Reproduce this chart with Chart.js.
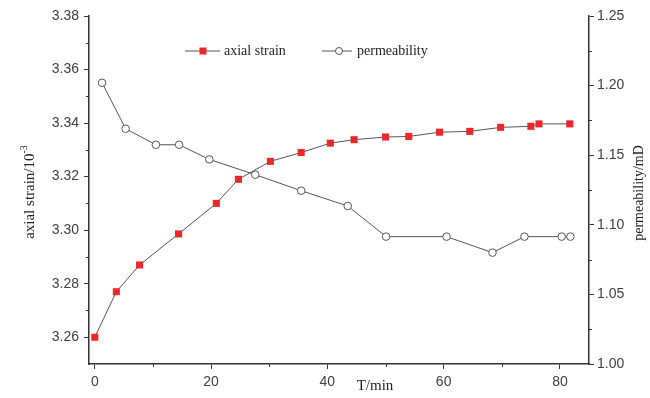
<!DOCTYPE html>
<html>
<head>
<meta charset="utf-8">
<script src="https://cdn.jsdelivr.net/npm/chart.js@4/dist/chart.umd.min.js"></script>
<style>
html,body{margin:0;padding:0;background:#fff;}
#wrap{width:650px;height:398px;position:relative;}
</style>
</head>
<body>
<div id="wrap"><canvas id="c" width="650" height="398"></canvas></div>
<script>
// ---- data ----
const strainT = [0, 3.7, 7.7, 14.4, 20.9, 24.7, 30.2, 35.5, 40.5, 44.6, 50.0, 54.0, 59.3, 64.5, 69.8, 75.0, 76.4, 81.7];
const strainV = [3.260, 3.277, 3.287, 3.2986, 3.310, 3.319, 3.3257, 3.329, 3.3325, 3.3338, 3.3348, 3.335, 3.3366, 3.3369, 3.3384, 3.3388, 3.3397, 3.3397];
const permT = [1.25, 5.3, 10.5, 14.5, 19.7, 27.6, 35.5, 43.5, 50.1, 60.5, 68.4, 73.9, 80.3, 81.8];
const permV = [1.202, 1.169, 1.1575, 1.1575, 1.147, 1.136, 1.1245, 1.1135, 1.0915, 1.0915, 1.080, 1.0915, 1.0915, 1.0915];
const xTicks = [0, 20, 40, 60, 80];
const xMinor = [10, 30, 50, 70];
const yLeftTicks = [3.26, 3.28, 3.30, 3.32, 3.34, 3.36, 3.38];
const yLeftMinor = [3.27, 3.29, 3.31, 3.33, 3.35, 3.37];
const yRightTicks = [1.00, 1.05, 1.10, 1.15, 1.20, 1.25];
const yRightMinor = [1.025, 1.075, 1.125, 1.175, 1.225];
const labels = { strain: 'axial strain', perm: 'permeability', x: 'T/min', yl: 'axial strain/10', ylSup: '-3', yr: 'permeability/mD' };

const SERIF = '"Liberation Serif", "Times New Roman", serif';
const SANS = '"Liberation Sans", Arial, sans-serif';
const AXIS = '#333';
const LINE = '#555';
const RED = '#e8282b';

const toXY = (xs, ys) => xs.map((x, i) => ({ x: x, y: ys[i] }));

const decor = {
  id: 'decor',
  afterDraw(chart) {
    const ctx = chart.ctx;
    const sx = chart.scales.x, sl = chart.scales.yl, sr = chart.scales.yr;
    const a = chart.chartArea;
    ctx.save();
    // minor ticks
    ctx.strokeStyle = AXIS; ctx.lineWidth = 1;
    ctx.beginPath();
    xMinor.forEach(v => { const p = Math.round(sx.getPixelForValue(v)) + 0.5; ctx.moveTo(p, a.bottom); ctx.lineTo(p, a.bottom + 3); });
    yLeftMinor.forEach(v => { const p = Math.round(sl.getPixelForValue(v)) + 0.5; ctx.moveTo(a.left, p); ctx.lineTo(a.left - 3, p); });
    yRightMinor.forEach(v => { const p = Math.round(sr.getPixelForValue(v)) + 0.5; ctx.moveTo(a.right, p); ctx.lineTo(a.right + 3, p); });
    ctx.stroke();

    // legend
    const d0 = chart.data.datasets[0], d1 = chart.data.datasets[1];
    const ly = 51;
    ctx.strokeStyle = LINE; ctx.lineWidth = 1;
    ctx.beginPath(); ctx.moveTo(185, ly); ctx.lineTo(220, ly); ctx.stroke();
    ctx.fillStyle = RED; ctx.fillRect(203 - 3.5, ly - 3.5, 7, 7);
    ctx.beginPath(); ctx.moveTo(322, ly); ctx.lineTo(352, ly); ctx.stroke();
    ctx.beginPath(); ctx.arc(339, ly, 3.5, 0, Math.PI * 2); ctx.fillStyle = '#fff'; ctx.fill(); ctx.stroke();
    ctx.fillStyle = '#222'; ctx.font = '14px ' + SERIF; ctx.textBaseline = 'middle'; ctx.textAlign = 'left';
    ctx.fillText(d0.label, 224, ly);
    ctx.fillText(d1.label, 357, ly);

    // axis titles
    ctx.font = '15px ' + SERIF; ctx.textAlign = 'center'; ctx.textBaseline = 'middle';
    ctx.fillText(labels.x, 375, 386);
    // left title rotated
    ctx.save();
    ctx.translate(30, 192); ctx.rotate(-Math.PI / 2);
    ctx.font = '15px ' + SERIF;
    const w1 = ctx.measureText(labels.yl).width;
    ctx.font = '10px ' + SERIF;
    const w2 = ctx.measureText(labels.ylSup).width;
    const tot = w1 + w2;
    ctx.textAlign = 'left';
    ctx.font = '15px ' + SERIF;
    ctx.fillText(labels.yl, -tot / 2, 0);
    ctx.font = '10px ' + SERIF;
    ctx.fillText(labels.ylSup, -tot / 2 + w1, -6);
    ctx.restore();
    // right title
    ctx.save();
    ctx.translate(639, 193); ctx.rotate(-Math.PI / 2);
    ctx.font = '14px ' + SERIF; ctx.textAlign = 'center';
    ctx.fillText(labels.yr, 0, 0);
    ctx.restore();
    ctx.restore();
  }
};

new Chart(document.getElementById('c'), {
  type: 'scatter',
  data: {
    datasets: [
      {
        label: labels.strain, data: toXY(strainT, strainV), yAxisID: 'yl', showLine: true,
        borderColor: LINE, borderWidth: 1, pointStyle: 'rect', pointRadius: 5, pointHoverRadius: 5,
        pointBackgroundColor: RED, pointBorderColor: RED, pointBorderWidth: 0, order: 1
      },
      {
        label: labels.perm, data: toXY(permT, permV), yAxisID: 'yr', showLine: true,
        borderColor: LINE, borderWidth: 1, pointStyle: 'circle', pointRadius: 3.8, pointHoverRadius: 3.8,
        pointBackgroundColor: '#fff', pointBorderColor: LINE, pointBorderWidth: 1, order: 2
      }
    ]
  },
  options: {
    responsive: false, animation: false, devicePixelRatio: 1,
    layout: { padding: { top: 16, left: 0, right: 0, bottom: 0 } },
    plugins: { legend: { display: false }, tooltip: { enabled: false } },
    scales: {
      x: {
        type: 'linear', min: -1, max: 85, position: 'bottom',
        afterBuildTicks: s => { s.ticks = xTicks.map(v => ({ value: v })); },
        afterFit: s => { s.height = 34; },
        grid: { drawOnChartArea: false, tickLength: 5, color: AXIS, tickWidth: 1 },
        border: { color: AXIS, width: 1.5 },
        ticks: { font: { family: SANS, size: 14 }, color: '#404040', padding: 5, maxRotation: 0, callback: v => String(v) }
      },
      yl: {
        type: 'linear', min: 3.25, max: 3.38, position: 'left',
        afterBuildTicks: s => { s.ticks = yLeftTicks.map(v => ({ value: v })); },
        afterFit: s => { s.width = 89; },
        grid: { drawOnChartArea: false, tickLength: 5, color: AXIS, tickWidth: 1 },
        border: { color: AXIS, width: 1.5 },
        ticks: { font: { family: SANS, size: 14 }, color: '#404040', padding: 5, callback: v => v.toFixed(2) }
      },
      yr: {
        type: 'linear', min: 1.00, max: 1.25, position: 'right',
        afterBuildTicks: s => { s.ticks = yRightTicks.map(v => ({ value: v })); },
        afterFit: s => { s.width = 61; },
        grid: { drawOnChartArea: false, tickLength: 5, color: AXIS, tickWidth: 1 },
        border: { color: AXIS, width: 1.5 },
        ticks: { font: { family: SANS, size: 14 }, color: '#404040', padding: 3, callback: v => v.toFixed(2) }
      }
    }
  },
  plugins: [decor]
});
</script>
</body>
</html>
